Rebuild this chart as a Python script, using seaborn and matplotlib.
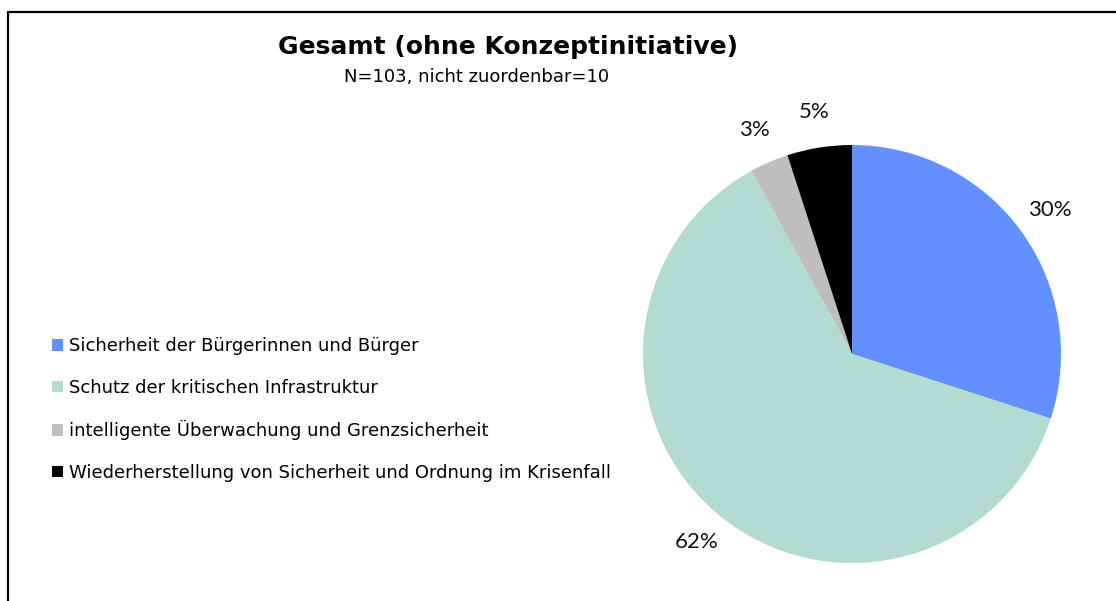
import matplotlib
matplotlib.use("Agg")
import matplotlib.pyplot as plt
from matplotlib.lines import Line2D
import seaborn as sns

categories = [
    "Sicherheit der Bürgerinnen und Bürger",
    "Schutz der kritischen Infrastruktur",
    "intelligente Überwachung und Grenzsicherheit",
    "Wiederherstellung von Sicherheit und Ordnung im Krisenfall",
]
values = [30, 62, 3, 5]
pct_labels = ["30%", "62%", "3%", "5%"]
colors = ["#6390FF", "#B3DBD2", "#BEBEBE", "#000000"]
title = "Gesamt (ohne Konzeptinitiative)"
subtitle = "N=103, nicht zuordenbar=10"

sns.set_theme(style="white")
plt.rcParams["font.family"] = ["DejaVu Sans"]
plt.rcParams["text.color"] = "black"

W, H = 1116, 601
fig = plt.figure(figsize=(W / 100, H / 100), dpi=100)
fig.patch.set_facecolor("white")

cx, cy, r = 852, 354, 209
ax = fig.add_axes([(cx - r) / W, (H - cy - r) / H, 2 * r / W, 2 * r / H])
wedges, texts = ax.pie(
    values, colors=colors, startangle=90, counterclock=False,
    labels=pct_labels, labeldistance=1.17,
    wedgeprops=dict(linewidth=0),
    textprops=dict(fontsize=16, color="#111111", family="Lato"),
)
for t in texts:
    t.set_ha("center")
    t.set_va("center")
ax.set_xlim(-1, 1)
ax.set_ylim(-1, 1)
ax.set_aspect("equal")
ax.axis("off")

fig.text(508 / W, 1 - 47 / H, title, ha="center", va="center",
         fontsize=18, fontweight="bold", family="DejaVu Sans", color="black")
fig.text(477 / W, 1 - 77 / H, subtitle, ha="center", va="center",
         fontsize=13, family="DejaVu Sans", color="black")

leg = fig.legend(wedges, categories, loc="upper left",
                 bbox_to_anchor=(36 / W, 1 - 321 / H), frameon=False,
                 labelspacing=1.3, handlelength=0.6,
                 handleheight=0.6, handletextpad=0.35,
                 prop=dict(family="DejaVu Sans", size=13))
for t in leg.get_texts():
    t.set_color("black")

# frame lines
fig.add_artist(Line2D([8 / W, 1.0], [1 - 12 / H, 1 - 12 / H],
                      transform=fig.transFigure, color="black", lw=1.6))
fig.add_artist(Line2D([8 / W, 8 / W], [0, 1 - 12 / H],
                      transform=fig.transFigure, color="black", lw=1.6))

fig.savefig("out.png", dpi=100, facecolor="white")
